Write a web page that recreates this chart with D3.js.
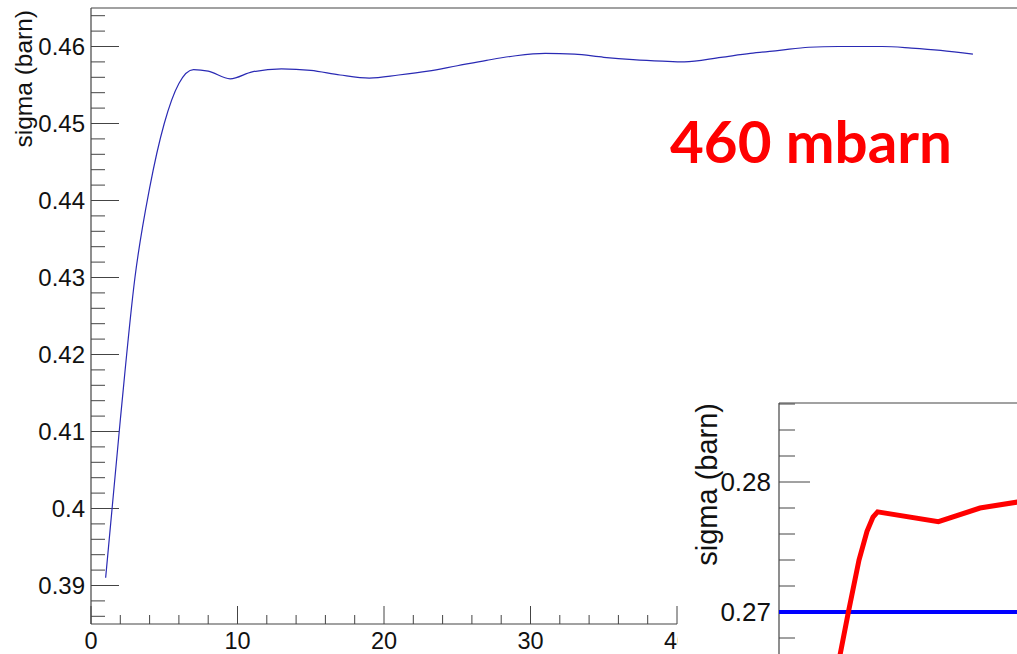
<!DOCTYPE html>
<html>
<head>
<meta charset="utf-8">
<script src="https://cdn.jsdelivr.net/npm/d3@7"></script>
<style>
  html, body { margin: 0; padding: 0; background: #fff; overflow: hidden; }
  svg { display: block; }
  text { font-family: "Liberation Sans", Arial, sans-serif; }
</style>
</head>
<body>
<script>
// ---------- data ----------
const mainX = [1, 2, 3, 4, 5, 6, 7, 8, 9.5, 11, 13, 15, 17, 19, 21, 23, 25, 27, 29, 31, 33, 35, 37, 39, 40.5, 43, 45, 47, 49, 51, 54, 56, 58, 60.2];
const mainSigma = [0.391, 0.4115, 0.430, 0.4416, 0.4500, 0.4552, 0.4570, 0.4568, 0.4558, 0.4567, 0.4571, 0.4569, 0.4563, 0.4559, 0.4563, 0.4568, 0.4575, 0.4582, 0.4588, 0.4591, 0.4590, 0.4586, 0.4583, 0.4581, 0.4580, 0.4586, 0.4591, 0.4595, 0.4599, 0.4600, 0.4600, 0.4598, 0.4595, 0.4590];
const mainXTicks = [0, 10, 20, 30, 40];
const mainYTicks = [0.39, 0.40, 0.41, 0.42, 0.43, 0.44, 0.45, 0.46];
const mainYTickLabels = ["0.39", "0.4", "0.41", "0.42", "0.43", "0.44", "0.45", "0.46"];

const insetX = [2.9, 3.47, 4.0, 4.4, 4.7, 4.93, 7.97, 10.05, 12.5];
const insetSigma = [0.2655, 0.2700, 0.2740, 0.2762, 0.2773, 0.2777, 0.27695, 0.2780, 0.2786];
const insetRefSigma = [0.27, 0.27];
const insetRefX = [0, 14];
const insetYTicks = [0.27, 0.28];
const insetYTickLabels = ["0.27", "0.28"];

const annotation = "460 mbarn";
const yTitle = "sigma (barn)";

// ---------- setup ----------
const W = 1017, H = 654;
const svg = d3.select("body").append("svg").attr("width", W).attr("height", H);
svg.append("rect").attr("width", W).attr("height", H).attr("fill", "#fff");

// main plot scales
const x = d3.scaleLinear().domain([0, 40]).range([91, 677]);
const y = d3.scaleLinear().domain([0.385, 0.465]).range([624, 8]);
const axisColor = "#444";

const main = svg.append("g");
// frame: top line & left axis
main.append("line").attr("x1", x(0)).attr("x2", W + 5).attr("y1", y(0.465)).attr("y2", y(0.465))
  .attr("stroke", axisColor).attr("stroke-width", 1.2);
main.append("line").attr("x1", x(0)).attr("x2", x(0)).attr("y1", y(0.465)).attr("y2", y(0.385))
  .attr("stroke", axisColor).attr("stroke-width", 1.2);
main.append("line").attr("x1", x(0)).attr("x2", x(40)).attr("y1", y(0.385)).attr("y2", y(0.385))
  .attr("stroke", axisColor).attr("stroke-width", 1.2);

// y ticks (inside)
const yMinor = d3.range(0.386, 0.4651, 0.002);
main.selectAll(".ymin").data(yMinor).join("line")
  .attr("x1", x(0)).attr("x2", d => x(0) + (Math.abs(Math.round(d * 100) - d * 100) < 1e-6 ? 28 : 14))
  .attr("y1", d => y(d)).attr("y2", d => y(d))
  .attr("stroke", axisColor).attr("stroke-width", 1);
main.selectAll(".ylab").data(mainYTicks).join("text")
  .attr("x", 85).attr("y", d => y(d)).attr("dy", "0.36em")
  .attr("text-anchor", "end").attr("font-size", 24).attr("fill", "#111")
  .text((d, i) => mainYTickLabels[i]);

// x ticks (inside)
const xMinor = d3.range(0, 40.01, 2);
main.selectAll(".xmin").data(xMinor).join("line")
  .attr("x1", d => x(d)).attr("x2", d => x(d))
  .attr("y1", y(0.385)).attr("y2", d => y(0.385) - (d % 10 === 0 ? 18 : 9))
  .attr("stroke", axisColor).attr("stroke-width", 1);
main.selectAll(".xlab").data(mainXTicks).join("text")
  .attr("x", d => x(d)).attr("y", 649)
  .attr("text-anchor", "middle").attr("font-size", 23.5).attr("fill", "#111")
  .text(d => d);

// y title
main.append("text")
  .attr("transform", `translate(32, 10) rotate(-90)`)
  .attr("text-anchor", "end").attr("font-size", 24.5).attr("fill", "#111")
  .text(yTitle);

// main curve
const line = d3.line().x((d, i) => x(mainX[i])).y(d => y(d)).curve(d3.curveMonotoneX);
main.append("path").datum(mainSigma).attr("d", line)
  .attr("fill", "none").attr("stroke", "#2a2ab4").attr("stroke-width", 1.2);

// ---------- inset ----------
const inset = svg.append("g");
inset.append("rect").attr("x", 678).attr("y", 394).attr("width", W - 678).attr("height", H - 394).attr("fill", "#fff");
const ix = d3.scaleLinear().domain([0, 10]).range([779, 979]);
const iy = d3.scaleLinear().domain([0.27, 0.28]).range([612, 482]);

svg.append("defs").append("clipPath").attr("id", "insetClip")
  .append("rect").attr("x", 779).attr("y", 403).attr("width", W - 779).attr("height", H - 403);

inset.append("line").attr("x1", 779).attr("x2", W + 5).attr("y1", 403).attr("y2", 403)
  .attr("stroke", axisColor).attr("stroke-width", 1.2);
inset.append("line").attr("x1", 779).attr("x2", 779).attr("y1", 403).attr("y2", H + 5)
  .attr("stroke", axisColor).attr("stroke-width", 1.2);

const iyMinor = d3.range(0.266, 0.2861, 0.002);
inset.selectAll(".iymin").data(iyMinor).join("line")
  .attr("x1", 779).attr("x2", d => 779 + (Math.abs(Math.round(d * 100) - d * 100) < 1e-6 ? 31 : 16))
  .attr("y1", d => iy(d)).attr("y2", d => iy(d))
  .attr("stroke", axisColor).attr("stroke-width", 1);
inset.selectAll(".iylab").data(insetYTicks).join("text")
  .attr("x", 771).attr("y", d => iy(d)).attr("dy", "0.36em")
  .attr("text-anchor", "end").attr("font-size", 26).attr("fill", "#111")
  .text((d, i) => insetYTickLabels[i]);
inset.append("text")
  .attr("transform", `translate(717, 403) rotate(-90)`)
  .attr("text-anchor", "end").attr("font-size", 29).attr("fill", "#111")
  .text(yTitle);

const ig = inset.append("g").attr("clip-path", "url(#insetClip)");
const refLine = d3.line().x((d, i) => ix(insetRefX[i])).y(d => iy(d));
ig.append("path").datum(insetRefSigma).attr("d", refLine)
  .attr("fill", "none").attr("stroke", "#0000ff").attr("stroke-width", 4);
const redLine = d3.line().x((d, i) => ix(insetX[i])).y(d => iy(d));
ig.append("path").datum(insetSigma).attr("d", redLine)
  .attr("fill", "none").attr("stroke", "#ff0000").attr("stroke-width", 5).attr("stroke-linejoin", "miter");

// ---------- annotation ----------
svg.append("text").attr("x", 670).attr("y", 163)
  .style("font-family", "Lato, 'Open Sans', sans-serif").style("font-weight", "bold")
  .attr("font-size", 58).attr("fill", "#ff0000")
  .attr("textLength", 282).attr("lengthAdjust", "spacingAndGlyphs")
  .text(annotation);
</script>
</body>
</html>
